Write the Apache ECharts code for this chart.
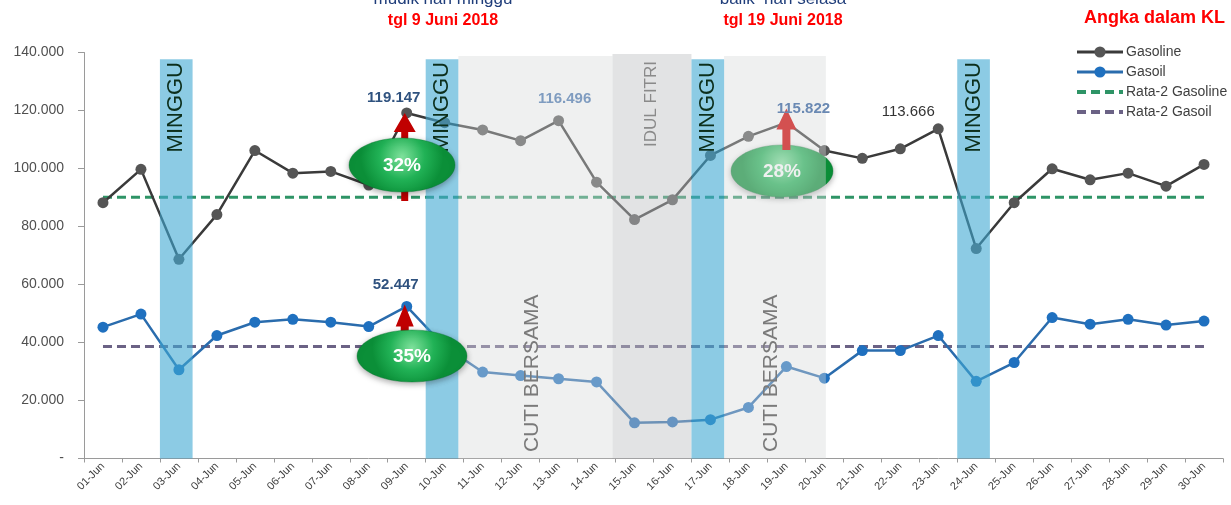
<!DOCTYPE html>
<html lang="id">
<head>
	<meta charset="UTF-8">
	<title>Gasoline dan Gasoil Juni 2018</title>
	<style>
		html, body { margin: 0; padding: 0; background: #fff; }
		#chart { width: 1231px; height: 505px; }
	</style>
</head>
<body>
	<div id="chart"></div>
	<script src="https://cdn.jsdelivr.net/npm/echarts@6/dist/echarts.min.js"></script>
	<script>
		// data (KL)
		var days = ['01-Jun','02-Jun','03-Jun','04-Jun','05-Jun','06-Jun','07-Jun','08-Jun','09-Jun','10-Jun',
			'11-Jun','12-Jun','13-Jun','14-Jun','15-Jun','16-Jun','17-Jun','18-Jun','19-Jun','20-Jun',
			'21-Jun','22-Jun','23-Jun','24-Jun','25-Jun','26-Jun','27-Jun','28-Jun','29-Jun','30-Jun'];
		var gasoline = [88200, 99700, 68700, 84100, 106200, 98400, 99000, 94300, 119147, 115800,
			113300, 109600, 116496, 95300, 82400, 89200, 104500, 111100, 115822, 106200,
			103500, 106800, 113666, 72400, 88200, 99900, 96100, 98400, 93900, 101400];
		var gasoil = [45300, 49800, 30600, 42400, 47000, 48000, 47000, 45500, 52447, 38600,
			29800, 28600, 27500, 26400, 12300, 12600, 13400, 17600, 31700, 27700,
			37200, 37200, 42400, 26600, 33100, 48600, 46300, 48000, 46000, 47400];
		var avgGasoline = 90100;
		var avgGasoil = 38600;
		var sundays = [3, 10, 17, 24];   // tanggal minggu

		var FONT = "'Liberation Sans', Arial, sans-serif";

		function fmt(v) {
			if (v === 0) return '-';
			return String(v).replace(/\B(?=(\d{3})+(?!\d))/g, '.');
		}

		var blue = 'rgba(63,168,210,0.6)';
		var bandAreas = [];
		// cuti bersama + idul fitri
		bandAreas.push([{ xAxis: 10.36, yAxis: 0, itemStyle: { color: 'rgba(215,218,218,0.4)' } }, { xAxis: 14.42, yAxis: 138800 }]);
		bandAreas.push([{ xAxis: 14.42, yAxis: 0, itemStyle: { color: 'rgba(190,192,196,0.45)' } }, { xAxis: 16.5, yAxis: 139500 }]);
		bandAreas.push([{ xAxis: 17.36, yAxis: 0, itemStyle: { color: 'rgba(215,218,218,0.4)' } }, { xAxis: 20.04, yAxis: 138800 }]);
		sundays.forEach(function (d) {
			bandAreas.push([{ xAxis: d - 0.5, yAxis: 0, itemStyle: { color: blue } }, { xAxis: d + 0.36, yAxis: 137700 }]);
		});

		var chart = echarts.init(document.getElementById('chart'));
		chart.setOption({
			animation: false,
			textStyle: { fontFamily: FONT },
			grid: { left: 84, right: 8, top: 52.5, bottom: 46.5 },
			legend: {
				orient: 'vertical',
				left: 1070,
				top: 40,
				itemWidth: 46,
				itemHeight: 14,
				itemGap: 6,
				data: [
					{ name: 'Gasoline', lineStyle: { width: 3 } },
					{ name: 'Gasoil', lineStyle: { width: 3 } },
					{ name: 'Rata-2 Gasoline', itemStyle: { opacity: 0 }, lineStyle: { width: 4 } },
					{ name: 'Rata-2 Gasoil', itemStyle: { opacity: 0 }, lineStyle: { width: 4 } }
				],
				textStyle: { fontSize: 14, color: '#404040', lineHeight: 14, padding: [0, 0, 0, -2] }
			},
			xAxis: [{
				type: 'category',
				data: days,
				boundaryGap: true,
				axisLine: { lineStyle: { color: '#9a9a9a', width: 1 } },
				axisTick: { show: true, length: 4, lineStyle: { color: '#9a9a9a' } },
				axisLabel: { rotate: 45, fontSize: 11, color: '#404040', margin: 6, interval: 0 }
			}, {
				type: 'value',
				min: 0.5,
				max: 30.5,
				show: false
			}],
			yAxis: {
				type: 'value',
				min: 0,
				max: 140000,
				interval: 20000,
				splitLine: { show: false },
				axisLine: { show: true, lineStyle: { color: '#9a9a9a' } },
				axisTick: { show: true, length: 6, lineStyle: { color: '#9a9a9a' } },
				axisLabel: { fontSize: 14, color: '#505050', margin: 20, formatter: function (v) { return fmt(v); } }
			},
			series: [{
				name: 'Gasoline',
				type: 'line',
				data: gasoline,
				symbol: 'circle',
				symbolSize: 11,
				z: 3,
				lineStyle: { color: '#3a3a3a', width: 2.5 },
				itemStyle: { color: '#555555' }
			}, {
				name: 'Gasoil',
				type: 'line',
				data: gasoil,
				symbol: 'circle',
				symbolSize: 11,
				z: 3,
				lineStyle: { color: '#2a6cad', width: 2.5 },
				itemStyle: { color: '#1f70bf' }
			}, {
				name: 'Rata-2 Gasoline',
				type: 'line',
				data: days.map(function () { return avgGasoline; }),
				symbol: 'none',
				z: 2,
				lineStyle: { color: '#2e9466', width: 3, type: [9, 5] },
				itemStyle: { color: '#2e9466' }
			}, {
				name: 'Rata-2 Gasoil',
				type: 'line',
				data: days.map(function () { return avgGasoil; }),
				symbol: 'none',
				z: 2,
				lineStyle: { color: '#6b6285', width: 3, type: [9, 5] },
				itemStyle: { color: '#6b6285' }
			}, {
				name: 'bands',
				type: 'line',
				xAxisIndex: 1,
				data: [],
				z: 10,
				silent: true,
				markArea: { silent: true, z: 10, label: { show: false }, data: bandAreas }
			}]
		});

		// anotasi
		function pt(i, v) { return chart.convertToPixel({ xAxisIndex: 0, yAxisIndex: 0 }, [days[i], v]); }
		function bx(v) { return chart.convertToPixel({ xAxisIndex: 1 }, v); }

		function arrow(x, ty, by, hh, hw, sw, color, z) {
			return {
				type: 'polygon', z: z,
				shape: { points: [[x, ty], [x + hw, ty + hh], [x + sw, ty + hh], [x + sw, by], [x - sw, by], [x - sw, ty + hh], [x - hw, ty + hh]] },
				style: { fill: color }
			};
		}
		function bubble(cx, cy, rx, ry, txt, z) {
			return {
				type: 'group', z: z,
				children: [{
					type: 'ellipse', z: z,
					shape: { cx: cx, cy: cy, rx: rx, ry: ry },
					style: {
						fill: new echarts.graphic.RadialGradient(0.5, 0.35, 0.75, [
							{ offset: 0, color: '#7fe19c' }, { offset: 0.55, color: '#21b256' }, { offset: 1, color: '#0b8f38' }
						]),
						stroke: 'rgba(0,110,40,0.35)', lineWidth: 1,
						shadowBlur: 6, shadowColor: 'rgba(0,0,0,0.35)', shadowOffsetY: 2
					}
				}, {
					type: 'text', z: z + 1, x: cx, y: cy + 1,
					style: { text: txt, fill: '#fff', font: 'bold 19px ' + FONT, align: 'center', verticalAlign: 'middle' }
				}]
			};
		}
		function vlabel(i, v, dx, dy, color, bold) {
			var p = pt(i, v);
			return {
				type: 'text', z: 20, x: p[0] + dx, y: p[1] + dy,
				style: { text: fmt(v), fill: color, font: (bold ? 'bold ' : '') + '15px ' + FONT, align: 'center', verticalAlign: 'middle' }
			};
		}

		var g = [];
		sundays.forEach(function (d) {
			g.push({
				type: 'text', z: 12, x: bx(d - 0.07), y: 62, rotation: Math.PI / 2,
				style: { text: 'MINGGU', fill: '#0c2f1c', font: '22px ' + FONT, align: 'right', verticalAlign: 'middle' }
			});
		});
		g.push({ type: 'text', z: 12, x: bx(12.3), y: 452, rotation: Math.PI / 2,
			style: { text: 'CUTI BERSAMA', fill: '#7a7a7a', font: '21px ' + FONT, align: 'left', verticalAlign: 'middle' } });
		g.push({ type: 'text', z: 12, x: bx(18.6), y: 452, rotation: Math.PI / 2,
			style: { text: 'CUTI BERSAMA', fill: '#7a7a7a', font: '21px ' + FONT, align: 'left', verticalAlign: 'middle' } });
		g.push({ type: 'text', z: 12, x: bx(15.45), y: 61, rotation: Math.PI / 2,
			style: { text: 'IDUL FITRI', fill: '#8a8a8a', font: '17px ' + FONT, align: 'right', verticalAlign: 'middle' } });

		// nilai puncak
		g.push(vlabel(8, gasoline[8], -13, -15, '#2f527f', true));
		g.push(vlabel(12, gasoline[12], 6, -22, '#7f9cc0', true));
		g.push(vlabel(18, gasoline[18], 17, -14, '#6a89b3', true));
		g.push(vlabel(22, gasoline[22], -30, -17, '#333333', false));
		g.push(vlabel(8, gasoil[8], -11, -22, '#2f527f', true));

		// panah + persentase
		var p1 = pt(8, gasoline[8]);
		g.push(arrow(p1[0] - 2, p1[1], 201, 19, 11, 3.5, '#c00000', 15));
		g.push(bubble(402, 165, 53, 27, '32%', 16));
		var p2 = pt(8, gasoil[8]);
		g.push(arrow(p2[0] - 2, p2[1] - 2, 340, 22, 9, 4, '#c00000', 15));
		g.push(bubble(412, 356, 55, 26, '35%', 16));
		var p3 = pt(18, gasoline[18]);
		g.push(bubble(782, 171, 51, 26, '28%', 4));
		g.push(arrow(p3[0], p3[1] - 14, 150, 21, 10, 4, '#d35050', 15));

		// judul / catatan
		g.push({ type: 'text', z: 20, x: 443, y: -1, style: { text: 'mudik hari minggu', fill: '#1f3d7a', font: '17px ' + FONT, align: 'center', verticalAlign: 'middle' } });
		g.push({ type: 'text', z: 20, x: 443, y: 21, style: { text: 'tgl 9 Juni 2018', fill: '#ff0000', font: 'bold 16px ' + FONT, align: 'center', verticalAlign: 'middle' } });
		g.push({ type: 'text', z: 20, x: 783, y: -1, style: { text: 'balik  hari selasa', fill: '#1f3d7a', font: '17px ' + FONT, align: 'center', verticalAlign: 'middle' } });
		g.push({ type: 'text', z: 20, x: 783, y: 21, style: { text: 'tgl 19 Juni 2018', fill: '#ff0000', font: 'bold 16px ' + FONT, align: 'center', verticalAlign: 'middle' } });
		g.push({ type: 'text', z: 20, x: 1225, y: 18, style: { text: 'Angka dalam KL', fill: '#ff0000', font: 'bold 18px ' + FONT, align: 'right', verticalAlign: 'middle' } });

		chart.setOption({ graphic: { elements: g } });
	</script>
</body>
</html>
